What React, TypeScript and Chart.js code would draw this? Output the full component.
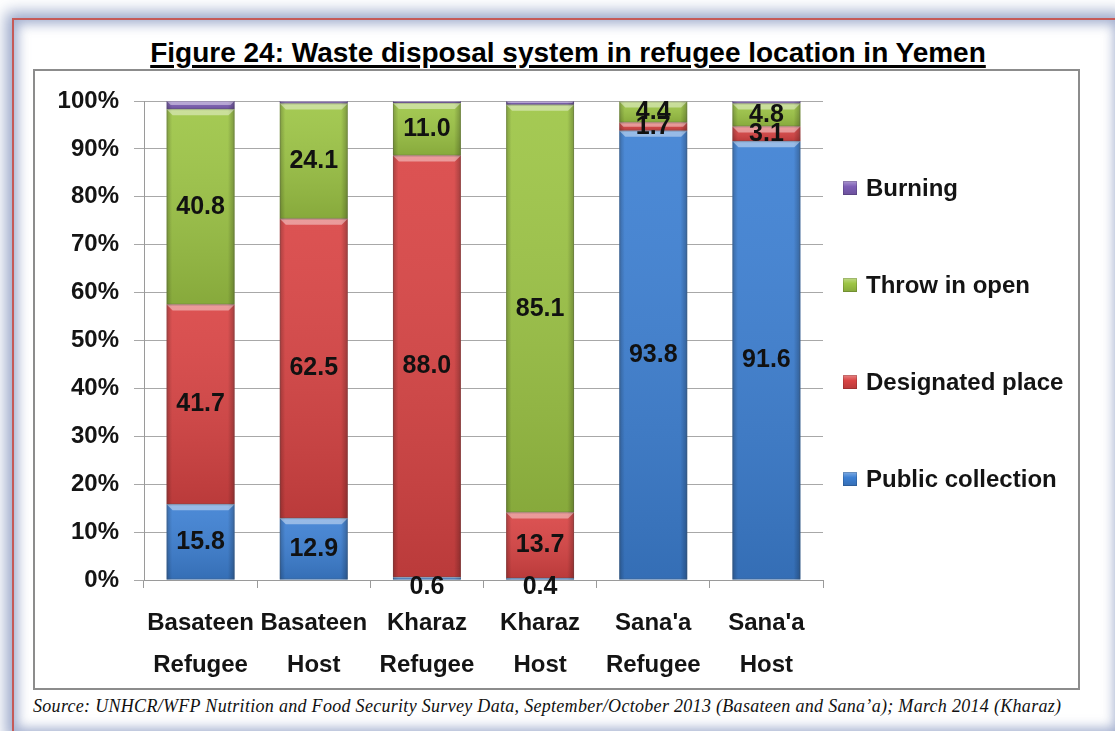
import React, { useEffect, useRef } from "react";
import { Chart, registerables } from "chart.js";

Chart.register(...registerables);

const titleText = "Figure 24: Waste disposal system in refugee location in Yemen";
const sourceText =
  "Source: UNHCR/WFP Nutrition and Food Security Survey Data, September/October 2013 (Basateen and Sana\u2019a); March 2014 (Kharaz)";

const categories: string[][] = [
  ["Basateen", "Refugee"],
  ["Basateen", "Host"],
  ["Kharaz", "Refugee"],
  ["Kharaz", "Host"],
  ["Sana'a", "Refugee"],
  ["Sana'a", "Host"],
];
const seriesNames = ["Public collection", "Designated place", "Throw in open", "Burning"];
const publicCollection = [15.8, 12.9, 0.6, 0.4, 93.8, 91.6];
const designatedPlace = [41.7, 62.5, 88.0, 13.7, 1.7, 3.1];
const throwInOpen = [40.8, 24.1, 11.0, 85.1, 4.4, 4.8];
const burning = [1.7, 0.5, 0.4, 0.8, 0.1, 0.5];
const labelledSeries = [true, true, true, false];
const yTickValues = [0, 10, 20, 30, 40, 50, 60, 70, 80, 90, 100];

const seriesColors = ["#3d80d3", "#d94444", "#9dc545", "#7e5fb6"];

const SANS = "'Liberation Sans', Arial, sans-serif";

const bevelPlugin = {
  id: "bevel",
  afterDatasetsDraw(chart: any) {
    const ctx = chart.ctx;
    chart.data.datasets.forEach((ds: any, di: number) => {
      const meta = chart.getDatasetMeta(di);
      meta.data.forEach((el: any) => {
        const w = el.width;
        const left = el.x - w / 2;
        const top = Math.min(el.y, el.base);
        const h = Math.abs(el.base - el.y);
        if (h < 0.5) return;
        ctx.save();
        const vg = ctx.createLinearGradient(0, top, 0, top + h);
        vg.addColorStop(0, "rgba(255,255,255,0.08)");
        vg.addColorStop(1, "rgba(0,0,0,0.14)");
        ctx.fillStyle = vg;
        ctx.fillRect(left, top, w, h);
        const hg = ctx.createLinearGradient(left, 0, left + w, 0);
        hg.addColorStop(0, "rgba(0,0,0,0.22)");
        hg.addColorStop(0.08, "rgba(0,0,0,0.0)");
        hg.addColorStop(0.9, "rgba(0,0,0,0.0)");
        hg.addColorStop(1, "rgba(0,0,0,0.25)");
        ctx.fillStyle = hg;
        ctx.fillRect(left, top, w, h);
        const b = Math.min(6, h / 2);
        ctx.beginPath();
        ctx.moveTo(left, top);
        ctx.lineTo(left + w, top);
        ctx.lineTo(left + w - b, top + b);
        ctx.lineTo(left + b, top + b);
        ctx.closePath();
        ctx.fillStyle = "rgba(255,255,255,0.42)";
        ctx.fill();
        ctx.strokeStyle = "rgba(80,80,80,0.25)";
        ctx.lineWidth = 1;
        ctx.strokeRect(left + 0.5, top + 0.5, w - 1, h - 1);
        ctx.restore();
      });
    });
  },
};

const labelPlugin = {
  id: "valueLabels",
  afterDatasetsDraw(chart: any) {
    const ctx = chart.ctx;
    ctx.save();
    ctx.font = `bold 25px ${SANS}`;
    ctx.fillStyle = "#111";
    ctx.textAlign = "center";
    ctx.textBaseline = "middle";
    chart.data.datasets.forEach((ds: any, di: number) => {
      if (!labelledSeries[di]) return;
      const meta = chart.getDatasetMeta(di);
      meta.data.forEach((el: any, i: number) => {
        const v = ds.data[i];
        if (v == null || v <= 0) return;
        let y = (el.y + el.base) / 2;
        if (v < 1) y = el.base + 8;
        ctx.fillText(v.toFixed(1), el.x, y);
      });
    });
    ctx.restore();
  },
};

function ChartBox() {
  const ref = useRef<HTMLCanvasElement | null>(null);
  useEffect(() => {
    if (!ref.current) return;
    const seriesData = [publicCollection, designatedPlace, throwInOpen, burning];
    const chart = new Chart(ref.current, {
      type: "bar",
      data: {
        labels: categories,
        datasets: seriesData.map((d, i) => ({
          label: seriesNames[i],
          data: d,
          backgroundColor: seriesColors[i],
          borderWidth: 0,
          barPercentage: 0.6,
          categoryPercentage: 1,
        })),
      },
      options: {
        animation: false,
        responsive: false,
        maintainAspectRatio: false,
        layout: { padding: { left: 0, right: 255, top: 30, bottom: 0 } },
        plugins: {
          legend: { display: false },
          tooltip: { enabled: false },
          title: { display: false },
        },
        scales: {
          x: {
            stacked: true,
            grid: {
              display: true,
              drawOnChartArea: false,
              drawTicks: true,
              tickLength: 8,
              color: "#9a9a9a",
              offset: true,
            },
            border: { display: true, color: "#9a9a9a", width: 1 },
            ticks: {
              color: "#141414",
              font: { family: SANS, size: 24, weight: "bold", lineHeight: 1.75 },
              padding: 14,
              maxRotation: 0,
              autoSkip: false,
            },
            afterFit(scale: any) {
              scale.height = 108;
            },
          },
          y: {
            stacked: true,
            min: 0,
            max: 100,
            afterBuildTicks(scale: any) {
              scale.ticks = yTickValues.map((v) => ({ value: v }));
            },
            grid: {
              color: "#a8a8a8",
              lineWidth: 1,
              tickLength: 10,
              drawTicks: true,
            },
            border: { display: true, color: "#9a9a9a", width: 1 },
            ticks: {
              color: "#141414",
              font: { family: SANS, size: 24, weight: "bold" },
              padding: 15,
              callback: (v: any) => `${v}%`,
            },
            afterFit(scale: any) {
              scale.width = 109;
            },
          },
        },
      },
      plugins: [bevelPlugin, labelPlugin],
    });
    return () => chart.destroy();
  }, []);
  return <canvas ref={ref} width={1043} height={617} style={{ display: "block" }} />;
}

function LegendMarker({ color }: { color: string }) {
  return (
    <span
      style={{
        display: "inline-block",
        width: 14,
        height: 14,
        background: `linear-gradient(180deg, rgba(255,255,255,0.35) 0%, rgba(255,255,255,0) 40%, rgba(0,0,0,0.15) 100%), ${color}`,
        boxShadow: "inset 0 0 0 1px rgba(0,0,0,0.15)",
        marginRight: 9,
        verticalAlign: "middle",
      }}
    />
  );
}

export default function App() {
  const legendOrder = [3, 2, 1, 0];
  return (
    <div
      style={{
        position: "absolute",
        left: 0,
        top: 0,
        width: 1115,
        height: 731,
        overflow: "hidden",
        background: "#ffffff",
      }}
    >
      <div
        style={{
          position: "absolute",
          left: 12,
          top: 18,
          width: 1108,
          height: 716,
          boxSizing: "border-box",
          border: "2px solid #c55a58",
          background: "#ffffff",
          boxShadow: "inset 0 0 12px 4px rgba(140,155,195,0.8), 0 0 14px 6px rgba(135,150,192,0.85)",
        }}
      />
      <div
        style={{
          position: "absolute",
          left: 0,
          width: 1136,
          top: 36,
          textAlign: "center",
          fontFamily: SANS,
          fontWeight: 700,
          fontSize: 28,
          lineHeight: "34px",
          color: "#000",
          textDecoration: "underline",
          textDecorationThickness: "3px",
          textUnderlineOffset: "3px",
          whiteSpace: "nowrap",
        }}
      >
        {titleText}
      </div>
      <div
        style={{
          position: "absolute",
          left: 33,
          top: 69,
          width: 1047,
          height: 621,
          boxSizing: "border-box",
          border: "2px solid #8c8c8c",
          background: "#fff",
        }}
      >
        <ChartBox />
        <div style={{ position: "absolute", left: 808, top: 0 }}>
          {legendOrder.map((si, k) => (
            <div
              key={si}
              style={{
                position: "absolute",
                top: 98 + k * 97,
                left: 0,
                whiteSpace: "nowrap",
                fontFamily: SANS,
                fontWeight: 700,
                fontSize: 24,
                lineHeight: "34px",
                color: "#141414",
              }}
            >
              <LegendMarker color={seriesColors[si]} />
              <span style={{ verticalAlign: "middle" }}>{seriesNames[si]}</span>
            </div>
          ))}
        </div>
      </div>
      <div
        style={{
          position: "absolute",
          left: 33,
          top: 695,
          fontFamily: "'Liberation Serif', 'Times New Roman', serif",
          fontStyle: "italic",
          fontSize: 18,
          letterSpacing: "0.3px",
          lineHeight: "22px",
          color: "#111",
          whiteSpace: "nowrap",
        }}
      >
        {sourceText}
      </div>
    </div>
  );
}
